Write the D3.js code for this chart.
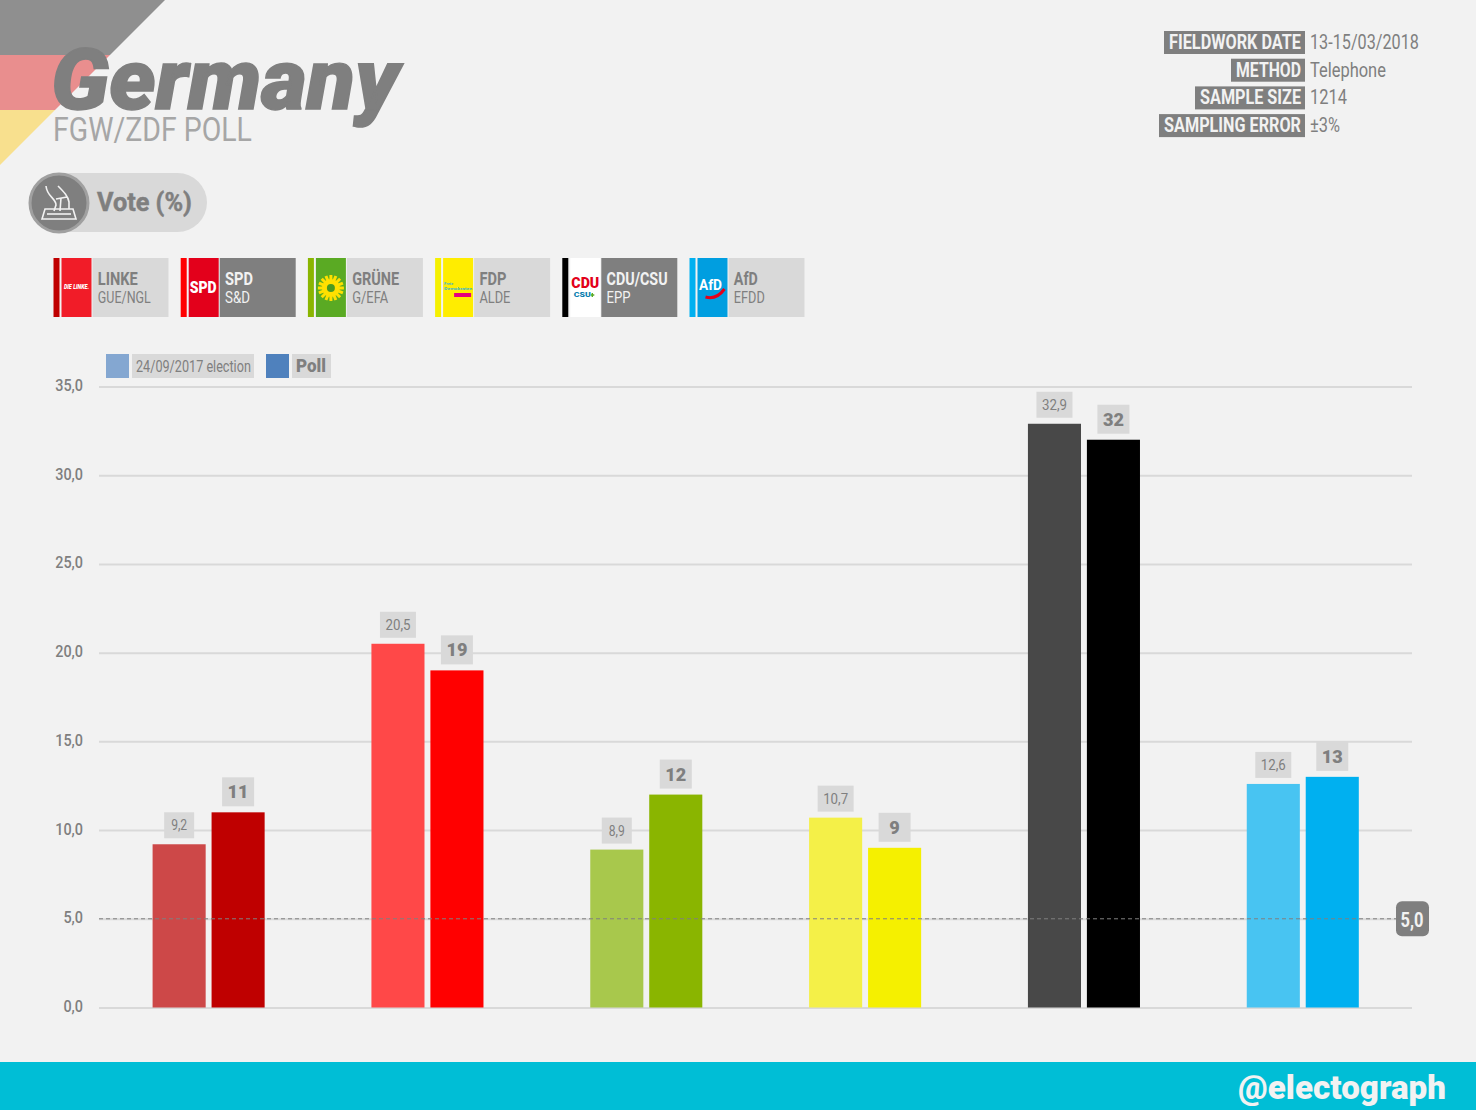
<!DOCTYPE html>
<html>
<head>
<meta charset="utf-8">
<script src="https://d3js.org/d3.v7.min.js"></script>
<style>
html, body { margin: 0; padding: 0; background: #f2f2f2; }
svg { display: block; }
text { font-family: Roboto, sans-serif; }
</style>
</head>
<body>
<svg id="chart" width="1476" height="1110"></svg>
<script>
// Values
const parties = ["LINKE", "SPD", "GRÜNE", "FDP", "CDU/CSU", "AfD"];
const groups = ["GUE/NGL", "S&D", "G/EFA", "ALDE", "EPP", "EFDD"];
const election = [9.2, 20.5, 8.9, 10.7, 32.9, 12.6];
const poll = [11, 19, 12, 9, 32, 13];
const electionColors = ["#cd4848", "#ff4848", "#a8c84c", "#f4f048", "#484848", "#48c4f2"];
const pollColors = ["#bf0000", "#ff0000", "#8ab500", "#f5f000", "#000000", "#00b0f0"];
const logoColors = ["#f11c28", "#e3001b", "#5aaa23", "#ffed00", "#ffffff", "#009ee0"];
const darkChips = ["SPD", "CDU/CSU"];
const yTicks = [0, 5, 10, 15, 20, 25, 30, 35];
const threshold = 5;
const infoLabels = ["FIELDWORK DATE", "METHOD", "SAMPLE SIZE", "SAMPLING ERROR"];
const infoValues = ["13-15/03/2018", "Telephone", "1214", "±3%"];
const legendLabels = ["24/09/2017 election", "Poll"];

const svg = d3.select("#chart");
const grey = "#7f7f7f", chip = "#d9d9d9";
const comma = d => d.toFixed(1).replace(".", ",");
const commaShort = d => String(d).replace(".", ",");

// squeezed text, Roboto Condensed is not installed
function label(g, x, y, str, size, weight, fill, anchor, len) {
    const t = g.append("text").text(str)
        .attr("font-size", size).attr("font-weight", weight)
        .attr("fill", fill).attr("text-anchor", anchor || "start");
    const k = len ? len / t.node().getComputedTextLength() : 1;
    t.attr("transform", `translate(${x},${y}) scale(${k},1)`);
    return t;
}

// Background flag corner
const flag = svg.append("g");
[["#8f8f8f", 0, 55], ["#e98e8e", 55, 110], ["#f8e08e", 110, 165]].forEach(b => {
    flag.append("path").attr("fill", b[0])
        .attr("d", `M0,${b[1]}L${165 - b[1]},${b[1]}L${165 - b[2]},${b[2]}L0,${b[2]}Z`);
});

// Title
label(svg, 51, 109, "Germany", 85, 900, grey, "start", 359)
    .attr("font-style", "italic").attr("stroke", grey).attr("stroke-width", 1.5);
label(svg, 53, 141, "FGW/ZDF POLL", 34, 400, "#a6a6a6", "start", 199);

// Vote pill
svg.append("rect").attr("x", 30).attr("y", 173).attr("width", 177).attr("height", 59)
    .attr("rx", 29.5).attr("fill", chip);
svg.append("circle").attr("cx", 59).attr("cy", 203).attr("r", 29).attr("fill", grey)
    .attr("stroke", "#a0a0a0").attr("stroke-width", 3);
const ballot = svg.append("g").attr("fill", "none").attr("stroke", "#f2f2f2").attr("stroke-width", 1.6);
ballot.append("path").attr("d", "M42,219L45,209H73L76,219Z");
ballot.append("path").attr("d", "M47,214H71");
ballot.append("path").attr("d", "M46,186C47,197 56,198 56,205L54,211");
ballot.append("path").attr("d", "M58,186C64,192 68,196 69,202V209M56,199L67,197M61,198L60,211");
label(svg, 97, 211, "Vote (%)", 26, 700, grey, "start", 95).attr("stroke", grey).attr("stroke-width", 0.5);

// Fieldwork info
const infoLens = [132, 65, 101, 137];
const infoValLens = [109, 76, 37, 30];
infoLabels.forEach((s, i) => {
    const cy = 42 + i * 27.7;
    svg.append("rect").attr("x", 1305 - infoLens[i] - 9).attr("y", cy - 11).attr("width", infoLens[i] + 9)
        .attr("height", 23).attr("fill", grey);
    label(svg, 1301, cy + 7, s, 20, 700, "#f2f2f2", "end", infoLens[i]);
    label(svg, 1310, cy + 7, infoValues[i], 20, 400, grey, "start", infoValLens[i]);
});

// Party chips
const chipX = d3.scalePoint().domain(parties).range([53.5, 689.5]);
const nameLens = [40, 28, 47, 27, 61, 24];
const groupLens = [53, 25, 36, 31, 24, 31];
parties.forEach((p, i) => {
    const x = chipX(p), dark = darkChips.includes(p);
    const g = svg.append("g").attr("transform", `translate(${x},258)`);
    g.append("rect").attr("width", 6).attr("height", 59).attr("fill", pollColors[i]);
    g.append("rect").attr("x", 8).attr("width", 30).attr("height", 59).attr("fill", logoColors[i]);
    g.append("rect").attr("x", 39).attr("width", 76).attr("height", 59).attr("fill", dark ? grey : chip);
    label(g, 44.3, 27, p, 18, 700, dark ? "#f2f2f2" : grey, "start", nameLens[i]);
    label(g, 44.3, 45, groups[i], 16, 400, dark ? "#f2f2f2" : grey, "start", groupLens[i]);
    drawLogo(g, p);
});

function drawLogo(g, p) {
    if (p === "LINKE") {
        label(g, 23, 31, "DIE LINKE.", 7, 900, "#fff", "middle", 26).attr("font-style", "italic");
    } else if (p === "SPD") {
        label(g, 22.5, 35, "SPD", 16, 900, "#fff", "middle", 27);
    } else if (p === "GRÜNE") {
        const sun = g.append("g").attr("transform", "translate(23,30)");
        d3.range(16).forEach(k => {
            sun.append("rect").attr("x", -1.5).attr("y", -13).attr("width", 3).attr("height", 7)
                .attr("fill", "#ffe000").attr("transform", `rotate(${k * 22.5})`);
        });
        sun.append("circle").attr("r", 9).attr("fill", "#ffe000");
        sun.append("circle").attr("r", 4).attr("fill", "#4a9a20");
    } else if (p === "FDP") {
        label(g, 9, 27, "Freie", 4, 700, "#3fb6c8");
        label(g, 9, 32, "Demokraten", 4, 700, "#3fb6c8", "start", 28);
        g.append("rect").attr("x", 19).attr("y", 35).attr("width", 17).attr("height", 4).attr("fill", "#e5007d");
    } else if (p === "CDU/CSU") {
        label(g, 23, 29.5, "CDU", 14, 900, "#e2001a", "middle", 28);
        label(g, 20, 39, "CSU", 8, 900, "#0b7fb0", "middle", 17);
        g.append("path").attr("d", "M30,35V39M28.5,37H32").attr("stroke", "#5aaa23").attr("stroke-width", 1.4);
    } else if (p === "AfD") {
        label(g, 21, 32, "AfD", 14, 700, "#fff", "middle", 23);
        g.append("path").attr("d", "M16,39Q27,42 35,31").attr("fill", "none")
            .attr("stroke", "#e2001a").attr("stroke-width", 3);
    }
}

// Scales
const y = d3.scaleLinear().domain([0, 35]).range([1007.5, 386.5]);
const x0 = d3.scaleBand().domain(parties).range([99.2, 1412.2]).paddingInner(0.488).paddingOuter(0.244);
const x1 = d3.scaleBand().domain(["election", "poll"]).range([0, x0.bandwidth()]).paddingInner(0.1);

// Grid and y axis
const axis = svg.append("g").attr("transform", "translate(99,0)")
    .call(d3.axisLeft(y).tickValues(yTicks).tickFormat(comma).tickSize(-1313).tickPadding(16));
axis.select(".domain").remove();
axis.selectAll(".tick line").attr("stroke", "#d9d9d9").attr("stroke-width", 2);
axis.selectAll(".tick text").attr("fill", grey).attr("font-size", 16).attr("font-weight", 500)
    .attr("font-family", "Roboto").attr("x", null).attr("dy", null)
    .attr("transform", "translate(-16,4) scale(0.9,1)");

// Legend
const legendX = [106, 266], legendLens = [115, 30];
legendLabels.forEach((s, i) => {
    svg.append("rect").attr("x", legendX[i]).attr("y", 354).attr("width", 23).attr("height", 24)
        .attr("fill", i ? "#4f81bd" : "#84a7d1");
    svg.append("rect").attr("x", legendX[i] + 26).attr("y", 354).attr("width", i ? 39 : 122).attr("height", 24)
        .attr("fill", chip);
    label(svg, legendX[i] + 30, 372, s, i ? 18 : 16, i ? 900 : 400, grey, "start", legendLens[i]);
});

// Bars
const series = [
    {key: "election", values: election, colors: electionColors},
    {key: "poll", values: poll, colors: pollColors}
];
series.forEach(s => {
    const isPoll = s.key === "poll";
    const g = svg.append("g");
    g.selectAll("rect").data(parties).join("rect")
        .attr("x", d => x0(d) + x1(s.key))
        .attr("y", (d, i) => y(s.values[i]))
        .attr("width", x1.bandwidth())
        .attr("height", (d, i) => y(0) - y(s.values[i]))
        .attr("fill", (d, i) => s.colors[i]);
    const lab = svg.append("g");
    parties.forEach((d, i) => {
        const cx = x0(d) + x1(s.key) + x1.bandwidth() / 2;
        const top = y(s.values[i]);
        const str = commaShort(s.values[i]);
        const bw = isPoll ? 32 : (str.length > 3 ? 36 : 30);
        const bh = isPoll ? 29 : 26;
        lab.append("rect").attr("x", cx - bw / 2).attr("y", top - 6 - bh)
            .attr("width", bw).attr("height", bh).attr("fill", chip);
        label(lab, cx, top - 6 - bh / 2 + (isPoll ? 6.5 : 5), str, isPoll ? 18 : 15, isPoll ? 900 : 400, grey, "middle",
            isPoll ? str.length * 10.5 : (str.length > 3 ? 25 : 16));
    });
});

// Threshold line
svg.append("line").attr("x1", 99).attr("x2", 1396).attr("y1", y(threshold)).attr("y2", y(threshold))
    .attr("stroke", grey).attr("stroke-width", 1).attr("stroke-dasharray", "4,3");
svg.append("rect").attr("x", 1396).attr("y", y(threshold) - 17.5).attr("width", 33).attr("height", 35)
    .attr("rx", 6).attr("fill", grey);
label(svg, 1412, y(threshold) + 8, comma(threshold), 20, 700, "#f2f2f2", "middle", 23);

// Footer
svg.append("rect").attr("y", 1062).attr("width", 1476).attr("height", 48).attr("fill", "#00bed6");
label(svg, 1446, 1099, "@electograph", 34, 900, "#f2f2f2", "end", 208);
</script>
</body>
</html>
